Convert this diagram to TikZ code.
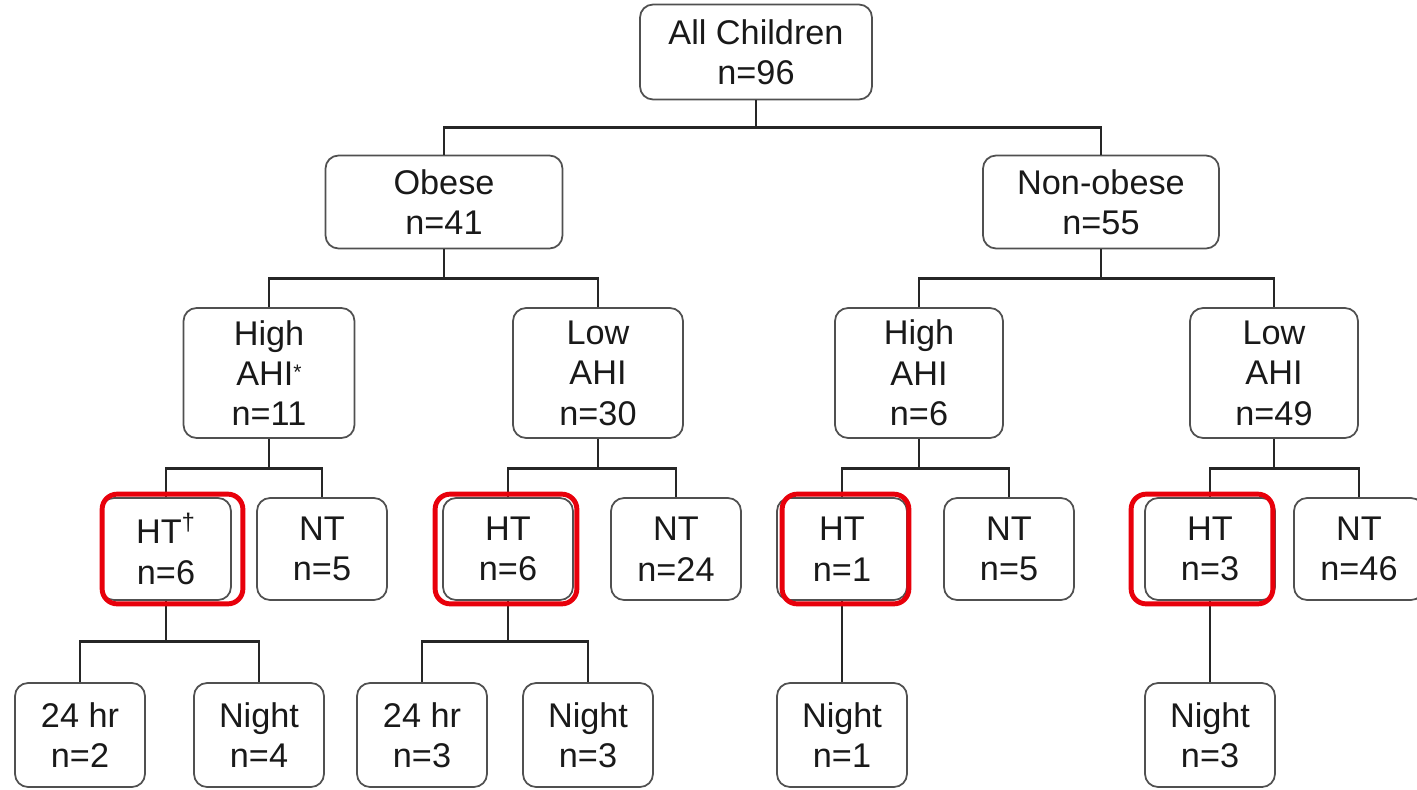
\documentclass[tikz,border=0pt]{standalone}
\usepackage{fontspec}
\setmainfont{Liberation Sans}
\usetikzlibrary{calc}
\definecolor{boxgray}{HTML}{505050}
\definecolor{linegray}{HTML}{262626}
\definecolor{hired}{HTML}{E8000B}

\begin{document}
\begin{tikzpicture}[x=0.02cm,y=-0.02cm,
    box/.style={draw=boxgray,line width=1pt,rounded corners=0.26cm,align=center,inner sep=0pt,
        minimum width=2.6cm,minimum height=2.04cm,text=black!90,font=\fontsize{19.5}{23}\selectfont},
    link/.style={draw=linegray,line width=1.6pt},
    hilite/.style={draw=hired,line width=2.8pt,rounded corners=0.3cm}]
    \useasboundingbox (0,0) rectangle (1417,789);
    % top levels
    \node(root)[box,minimum width=4.64cm,minimum height=1.9cm] at (756,52) {All Children\\n=96};
    \node(ob)[box,minimum width=4.74cm,minimum height=1.86cm] at (444,202) {Obese\\n=41};
    \node(nob)[box,minimum width=4.72cm,minimum height=1.86cm] at (1101,202) {Non-obese\\n=55};
    \node(obhi)[box,minimum width=3.42cm,minimum height=2.6cm] at (269,373) {High\\AHI\raisebox{0.35ex}{\fontsize{12}{12}\selectfont *}\\n=11};
    \node(oblo)[box,minimum width=3.4cm,minimum height=2.6cm] at (598,373) {Low\\AHI\\n=30};
    \node(nobhi)[box,minimum width=3.36cm,minimum height=2.6cm] at (919,373) {High\\AHI\\n=6};
    \node(noblo)[box,minimum width=3.36cm,minimum height=2.6cm] at (1274,373) {Low\\AHI\\n=49};
    % HT / NT
    \node(ht1)[box] at (166,549) {HT\textsuperscript{†}\\n=6};
    \node(nt1)[box] at (322,549) {NT\\n=5};
    \node(ht2)[box] at (508,549) {HT\\n=6};
    \node(nt2)[box] at (676,549) {NT\\n=24};
    \node(ht3)[box] at (842,549) {HT\\n=1};
    \node(nt3)[box] at (1009,549) {NT\\n=5};
    \node(ht4)[box] at (1210,549) {HT\\n=3};
    \node(nt4)[box] at (1359,549) {NT\\n=46};
    % 24 hr / night
    \node(d1)[box,minimum height=2.08cm] at (80,735) {24 hr\\n=2};
    \node(n1)[box,minimum height=2.08cm] at (259,735) {Night\\n=4};
    \node(d2)[box,minimum height=2.08cm] at (422,735) {24 hr\\n=3};
    \node(n2)[box,minimum height=2.08cm] at (588,735) {Night\\n=3};
    \node(n3)[box,minimum height=2.08cm] at (842,735) {Night\\n=1};
    \node(n4)[box,minimum height=2.08cm] at (1210,735) {Night\\n=3};
    % connectors
    \draw[link] (root.south) -- ++(0,27) -| (ob.north);
    \draw[link] (root.south) -- ++(0,27) -| (nob.north);
    \draw[link] (ob.south) -- ++(0,29) -| (obhi.north);
    \draw[link] (ob.south) -- ++(0,29) -| (oblo.north);
    \draw[link] (nob.south) -- ++(0,29) -| (nobhi.north);
    \draw[link] (nob.south) -- ++(0,29) -| (noblo.north);
    \draw[link] (obhi.south) -- ++(0,30) -| (ht1.north);
    \draw[link] (obhi.south) -- ++(0,30) -| (nt1.north);
    \draw[link] (oblo.south) -- ++(0,30) -| (ht2.north);
    \draw[link] (oblo.south) -- ++(0,30) -| (nt2.north);
    \draw[link] (nobhi.south) -- ++(0,30) -| (ht3.north);
    \draw[link] (nobhi.south) -- ++(0,30) -| (nt3.north);
    \draw[link] (noblo.south) -- ++(0,30) -| (ht4.north);
    \draw[link] (noblo.south) -- ++(0,30) -| (nt4.north);
    \draw[link] (ht1.south) -- ++(0,41) -| (d1.north);
    \draw[link] (ht1.south) -- ++(0,41) -| (n1.north);
    \draw[link] (ht2.south) -- ++(0,41) -| (d2.north);
    \draw[link] (ht2.south) -- ++(0,41) -| (n2.north);
    \draw[link] (ht3.south) -- (n3.north);
    \draw[link] (ht4.south) -- (n4.north);
    % red marks round the HT boxes
    \draw[hilite] ($(ht1.north west)+(2,-3)$) rectangle ($(ht1.south east)+(11,3)$);
    \draw[hilite] ($(ht2.north west)+(-7,-3)$) rectangle ($(ht2.south east)+(3,3)$);
    \draw[hilite] ($(ht3.north west)+(6,-3)$) rectangle ($(ht3.south east)+(1,3)$);
    \draw[hilite] ($(ht4.north west)+(-13,-3)$) rectangle ($(ht4.south east)+(-3,3)$);
\end{tikzpicture}
\end{document}
